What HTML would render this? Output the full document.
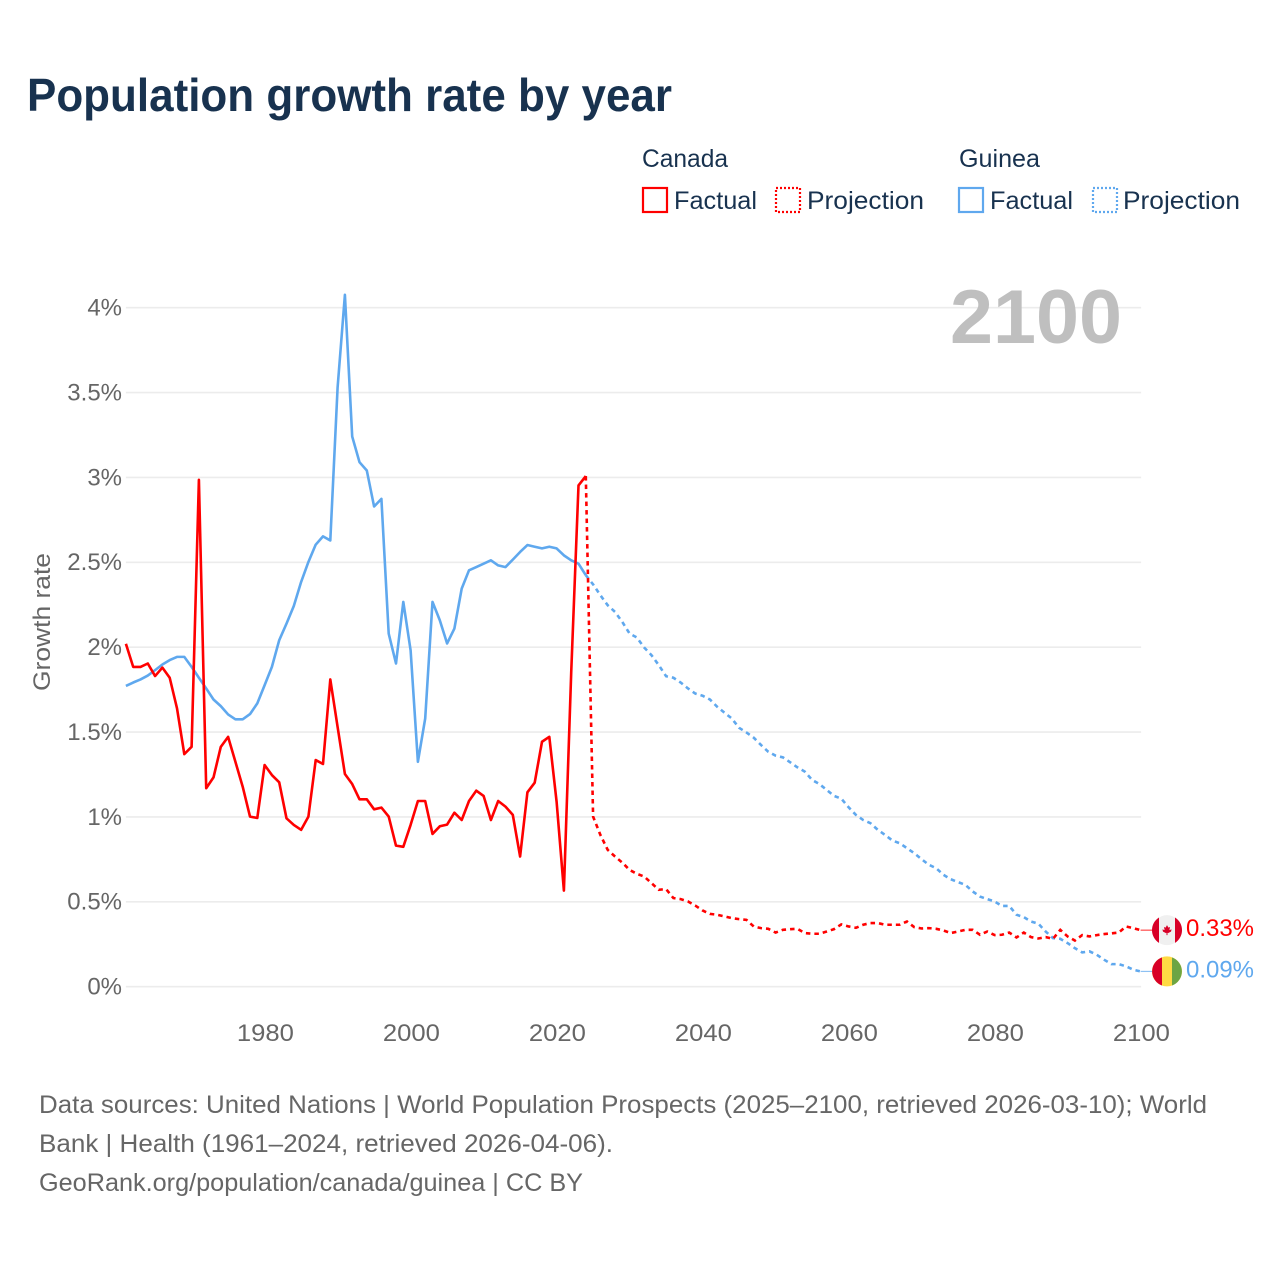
<!DOCTYPE html>
<html lang="en">
<head>
<meta charset="utf-8">
<title>Population growth rate by year</title>
<style>
html,body{margin:0;padding:0;background:#fff;}
svg{display:block;}
text{font-family:"Liberation Sans",sans-serif;}
</style>
</head>
<body>
<svg id="chart" xmlns="http://www.w3.org/2000/svg" width="1280" height="1280" viewBox="0 0 1280 1280">
  <rect x="0" y="0" width="1280" height="1280" fill="#ffffff"/>
  <text x="27" y="111" font-size="46" font-weight="700" fill="#18324f" textLength="645" lengthAdjust="spacingAndGlyphs">Population growth rate by year</text>

  <g font-size="25" fill="#18324f">
    <text x="642" y="167" textLength="86" lengthAdjust="spacingAndGlyphs">Canada</text>
    <text x="959" y="167" textLength="81" lengthAdjust="spacingAndGlyphs">Guinea</text>
    <rect x="643" y="188" width="24" height="24" fill="none" stroke="#ff0000" stroke-width="2.2"/>
    <text x="674" y="209" textLength="83" lengthAdjust="spacingAndGlyphs">Factual</text>
    <rect x="776" y="188" width="24" height="24" fill="none" stroke="#ff0000" stroke-width="2.2" stroke-dasharray="2 2"/>
    <text x="807" y="209" textLength="117" lengthAdjust="spacingAndGlyphs">Projection</text>
    <rect x="959" y="188" width="24" height="24" fill="none" stroke="#5fa8ee" stroke-width="2.2"/>
    <text x="990" y="209" textLength="83" lengthAdjust="spacingAndGlyphs">Factual</text>
    <rect x="1093" y="188" width="24" height="24" fill="none" stroke="#5fa8ee" stroke-width="2.2" stroke-dasharray="2 2"/>
    <text x="1123" y="209" textLength="117" lengthAdjust="spacingAndGlyphs">Projection</text>
  </g>

  <g id="grid"></g>
  <text x="1122" y="343" font-size="76" font-weight="700" fill="#bfbfbf" text-anchor="end" textLength="172" lengthAdjust="spacingAndGlyphs">2100</text>
  <g id="yticks"></g>
  <g id="xticks"></g>
  <text transform="translate(50,622) rotate(-90)" font-size="24" fill="#666666" text-anchor="middle" textLength="138" lengthAdjust="spacingAndGlyphs">Growth rate</text>

  <g id="series"></g>
  <g id="ends"></g>

  <g font-size="25" fill="#666666">
    <text x="39" y="1113" textLength="1168" lengthAdjust="spacingAndGlyphs">Data sources: United Nations | World Population Prospects (2025–2100, retrieved 2026-03-10); World</text>
    <text x="39" y="1152" textLength="574" lengthAdjust="spacingAndGlyphs">Bank | Health (1961–2024, retrieved 2026-04-06).</text>
    <text x="39" y="1191" textLength="544" lengthAdjust="spacingAndGlyphs">GeoRank.org/population/canada/guinea | CC BY</text>
  </g>
</svg>
<script>
const factualStartYear = 1961;
const projectionStartYear = 2024;
const yTicks = [0, 0.5, 1, 1.5, 2, 2.5, 3, 3.5, 4];
const yTickLabels = ["0%", "0.5%", "1%", "1.5%", "2%", "2.5%", "3%", "3.5%", "4%"];
const xTicks = [1980, 2000, 2020, 2040, 2060, 2080, 2100];
const canadaFactual = [2.02,1.884,1.884,1.904,1.83,1.88,1.82,1.64,1.37,1.413,2.986,1.169,1.233,1.413,1.472,1.325,1.178,1.002,0.994,1.306,1.247,1.204,0.992,0.953,0.924,1.002,1.335,1.312,1.81,1.53,1.253,1.194,1.104,1.104,1.045,1.055,1.002,0.831,0.824,0.953,1.094,1.094,0.9,0.945,0.955,1.025,0.982,1.094,1.155,1.124,0.982,1.094,1.061,1.012,0.767,1.145,1.202,1.443,1.472,1.09,0.566,1.85,2.953,3.008];
const canadaProjection = [3.008,1.002,0.894,0.806,0.767,0.731,0.688,0.665,0.649,0.61,0.571,0.575,0.522,0.516,0.502,0.478,0.449,0.429,0.424,0.414,0.404,0.398,0.394,0.355,0.345,0.341,0.319,0.335,0.339,0.341,0.316,0.312,0.312,0.325,0.339,0.367,0.355,0.347,0.365,0.375,0.375,0.365,0.365,0.365,0.384,0.351,0.343,0.345,0.341,0.331,0.316,0.325,0.335,0.335,0.306,0.325,0.304,0.306,0.319,0.29,0.319,0.292,0.284,0.292,0.282,0.335,0.296,0.272,0.304,0.296,0.304,0.31,0.314,0.319,0.355,0.345,0.333];
const guineaFactual = [1.772,1.792,1.81,1.833,1.865,1.898,1.924,1.943,1.943,1.884,1.82,1.757,1.692,1.653,1.604,1.575,1.575,1.606,1.669,1.776,1.884,2.041,2.139,2.243,2.384,2.502,2.604,2.653,2.629,3.53,4.076,3.241,3.09,3.041,2.829,2.874,2.08,1.904,2.267,1.982,1.325,1.58,2.267,2.159,2.022,2.11,2.345,2.453,2.472,2.492,2.512,2.482,2.472,2.516,2.561,2.602,2.592,2.582,2.592,2.582,2.541,2.512,2.492,2.424];
const guineaProjection = [2.424,2.37,2.306,2.247,2.208,2.149,2.08,2.057,1.998,1.953,1.894,1.829,1.82,1.792,1.757,1.727,1.714,1.692,1.649,1.614,1.58,1.525,1.498,1.467,1.424,1.384,1.361,1.351,1.322,1.292,1.267,1.218,1.194,1.159,1.124,1.108,1.057,1.012,0.982,0.963,0.924,0.894,0.861,0.845,0.816,0.786,0.751,0.718,0.698,0.659,0.633,0.616,0.6,0.561,0.531,0.516,0.502,0.476,0.476,0.424,0.41,0.384,0.371,0.325,0.286,0.282,0.257,0.227,0.202,0.208,0.188,0.159,0.133,0.133,0.12,0.1,0.09];
const canadaEndLabel = "0.33%";
const guineaEndLabel = "0.09%";

const NS = "http://www.w3.org/2000/svg";
function xScale(year) { return 125.9 + (year - 1961) * 7.3; }
function yScale(v) { return 986.7 - v * 169.75; }
function make(tag, parent, attrs, text) {
  const el = document.createElementNS(NS, tag);
  for (const k in attrs) el.setAttribute(k, attrs[k]);
  if (text !== undefined) el.textContent = text;
  parent.appendChild(el);
  return el;
}
function linePath(values, startYear) {
  return values.map(function (v, i) {
    return (i ? "L" : "M") + xScale(startYear + i).toFixed(2) + " " + yScale(v).toFixed(2);
  }).join("");
}

const grid = document.getElementById("grid");
const yticksG = document.getElementById("yticks");
const xticksG = document.getElementById("xticks");
const seriesG = document.getElementById("series");
const endsG = document.getElementById("ends");

yTicks.forEach(function (t, i) {
  const gl = make("line", grid, { x1: xScale(1961), x2: xScale(2100) + 0.5, y1: yScale(t), y2: yScale(t), stroke: "#ececec", "stroke-width": 1.6 });
  
  
  const lb = make("text", yticksG, { x: 122, y: yScale(t) + 7.8, "font-size": 24, fill: "#666666", "text-anchor": "end" }, yTickLabels[i]);
  
  
});
xTicks.forEach(function (t) {
  const lb = make("text", xticksG, { x: xScale(t) + 0.8, y: 1041, "font-size": 24, fill: "#666666", "text-anchor": "middle", textLength: 57, lengthAdjust: "spacingAndGlyphs" }, String(t));
  
  
});

const gf = make("path", seriesG, { d: linePath(guineaFactual, factualStartYear), fill: "none", stroke: "#5fa8ee", "stroke-width": 2.6, "stroke-linejoin": "round" });


const gp = make("path", seriesG, { d: linePath(guineaProjection, projectionStartYear), fill: "none", stroke: "#5fa8ee", "stroke-width": 2.6, "stroke-dasharray": "4.5 4" });


const cf = make("path", seriesG, { d: linePath(canadaFactual, factualStartYear), fill: "none", stroke: "#ff0000", "stroke-width": 2.6, "stroke-linejoin": "round" });


const cp = make("path", seriesG, { d: linePath(canadaProjection, projectionStartYear), fill: "none", stroke: "#ff0000", "stroke-width": 2.6, "stroke-dasharray": "4.5 4" });



const canadaY = yScale(canadaProjection[canadaProjection.length - 1]);
const guineaY = yScale(guineaProjection[guineaProjection.length - 1]);
const endX = xScale(2100);
const flagX = 1167;

const cc = make("line", endsG, { x1: endX, x2: flagX - 15, y1: canadaY, y2: canadaY, stroke: "#ff0000", "stroke-width": 1.2, opacity: 0.7 });


const gc = make("line", endsG, { x1: endX, x2: flagX - 15, y1: guineaY, y2: guineaY, stroke: "#5fa8ee", "stroke-width": 1.2, opacity: 0.7 });



const canadaFlag = make("g", endsG, { transform: "translate(" + flagX + "," + canadaY + ")" });


make("circle", canadaFlag, { r: 15, fill: "#f0f0f0" });
make("path", canadaFlag, { d: "M-8 -12.7A15 15 0 0 0 -8 12.7Z", fill: "#d80027" });
make("path", canadaFlag, { d: "M8 -12.7A15 15 0 0 1 8 12.7Z", fill: "#d80027" });
make("path", canadaFlag, { d: "M0 -5L1.4 -2.6L3 -3.2L2.4 0L4.6 -0.8L4 1.4L1 3L0.5 2.6V5H-0.5V2.6L-1 3L-4 1.4L-4.6 -0.8L-2.4 0L-3 -3.2L-1.4 -2.6Z", fill: "#d80027" });

const guineaFlag = make("g", endsG, { transform: "translate(" + flagX + "," + guineaY + ")" });


make("circle", guineaFlag, { r: 15, fill: "#ffda44" });
make("path", guineaFlag, { d: "M-5 -14.1A15 15 0 0 0 -5 14.1Z", fill: "#d80027" });
make("path", guineaFlag, { d: "M5 -14.1A15 15 0 0 1 5 14.1Z", fill: "#6da544" });

const cl = make("text", endsG, { x: 1186, y: canadaY + 6, "font-size": 24, fill: "#ff0000", textLength: 68, lengthAdjust: "spacingAndGlyphs" }, canadaEndLabel);


const glb = make("text", endsG, { x: 1186, y: guineaY + 6, "font-size": 24, fill: "#5fa8ee", textLength: 68, lengthAdjust: "spacingAndGlyphs" }, guineaEndLabel);


</script>
</body>
</html>
